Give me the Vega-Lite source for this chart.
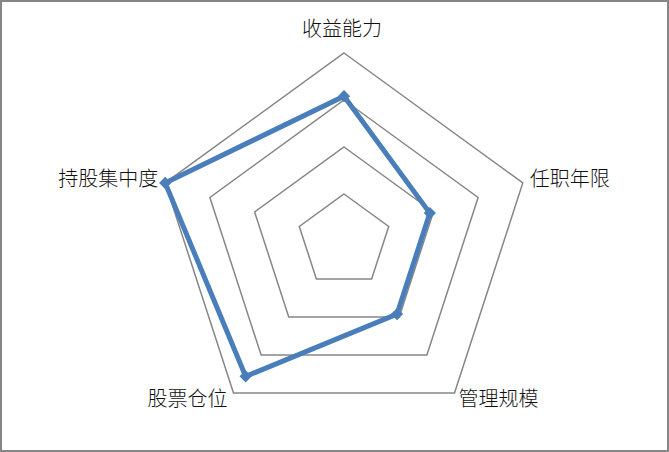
{
  "$schema": "https://vega.github.io/schema/vega-lite/v6.json",
  "width": 669,
  "height": 452,
  "autosize": "none",
  "padding": 0,
  "background": "white",
  "config": {
    "view": {"stroke": "#868686", "strokeWidth": 4},
    "text": {"font": "Noto Sans CJK SC", "fontSize": 20, "fontWeight": 300, "color": "#111111", "baseline": "middle"}
  },
  "datasets": {
    "vals": [
      {"axis": "收益能力", "idx": 0, "value": 77},
      {"axis": "任职年限", "idx": 1, "value": 48},
      {"axis": "管理规模", "idx": 2, "value": 48},
      {"axis": "股票仓位", "idx": 3, "value": 89},
      {"axis": "持股集中度", "idx": 4, "value": 100}
    ],
    "grid": [
      {"level": 25, "idx": [0, 1, 2, 3, 4]},
      {"level": 50, "idx": [0, 1, 2, 3, 4]},
      {"level": 75, "idx": [0, 1, 2, 3, 4]},
      {"level": 100, "idx": [0, 1, 2, 3, 4]}
    ]
  },
  "encoding": {
    "x": {"field": "x", "type": "quantitative", "axis": null,
          "scale": {"domain": [-182.98, 172.87], "nice": false, "zero": false}},
    "y": {"field": "y", "type": "quantitative", "axis": null,
          "scale": {"domain": [-112.23, 128.19], "nice": false, "zero": false}}
  },
  "layer": [
    {
      "data": {"name": "grid"},
      "transform": [
        {"flatten": ["idx"]},
        {"calculate": "datum.idx * 2 * PI / 5", "as": "ang"},
        {"calculate": "datum.level * sin(datum.ang)", "as": "x"},
        {"calculate": "datum.level * cos(datum.ang)", "as": "y"}
      ],
      "mark": {"type": "line", "interpolate": "linear-closed", "color": "#868686", "strokeWidth": 1.5},
      "encoding": {
        "detail": {"field": "level", "type": "nominal"},
        "order": {"field": "idx", "type": "quantitative"}
      }
    },
    {
      "data": {"name": "vals"},
      "transform": [
        {"calculate": "datum.idx * 2 * PI / 5", "as": "ang"},
        {"calculate": "datum.value * sin(datum.ang)", "as": "x"},
        {"calculate": "datum.value * cos(datum.ang)", "as": "y"}
      ],
      "mark": {"type": "line", "interpolate": "linear-closed", "color": "#4A7EBB", "strokeWidth": 5, "strokeJoin": "miter"},
      "encoding": {
        "order": {"field": "idx", "type": "quantitative"}
      }
    },
    {
      "data": {"name": "vals"},
      "transform": [
        {"calculate": "datum.idx * 2 * PI / 5", "as": "ang"},
        {"calculate": "datum.value * sin(datum.ang)", "as": "x"},
        {"calculate": "datum.value * cos(datum.ang)", "as": "y"}
      ],
      "mark": {"type": "point", "shape": "diamond", "filled": true, "size": 150, "color": "#4A7EBB", "opacity": 1}
    },
    {
      "data": {"name": "vals"},
      "transform": [
        {"filter": "datum.idx == 0"},
        {"calculate": "100 * sin(datum.idx * 2 * PI / 5)", "as": "x"},
        {"calculate": "100 * cos(datum.idx * 2 * PI / 5)", "as": "y"}
      ],
      "mark": {"type": "text", "align": "center", "dx": -2, "dy": -23},
      "encoding": {"text": {"field": "axis"}}
    },
    {
      "data": {"name": "vals"},
      "transform": [
        {"filter": "datum.idx == 1"},
        {"calculate": "100 * sin(datum.idx * 2 * PI / 5)", "as": "x"},
        {"calculate": "100 * cos(datum.idx * 2 * PI / 5)", "as": "y"}
      ],
      "mark": {"type": "text", "align": "left", "dx": 7, "dy": -3},
      "encoding": {"text": {"field": "axis"}}
    },
    {
      "data": {"name": "vals"},
      "transform": [
        {"filter": "datum.idx == 2"},
        {"calculate": "100 * sin(datum.idx * 2 * PI / 5)", "as": "x"},
        {"calculate": "100 * cos(datum.idx * 2 * PI / 5)", "as": "y"}
      ],
      "mark": {"type": "text", "align": "left", "dx": 4, "dy": 7},
      "encoding": {"text": {"field": "axis"}}
    },
    {
      "data": {"name": "vals"},
      "transform": [
        {"filter": "datum.idx == 3"},
        {"calculate": "100 * sin(datum.idx * 2 * PI / 5)", "as": "x"},
        {"calculate": "100 * cos(datum.idx * 2 * PI / 5)", "as": "y"}
      ],
      "mark": {"type": "text", "align": "right", "dx": -6, "dy": 7},
      "encoding": {"text": {"field": "axis"}}
    },
    {
      "data": {"name": "vals"},
      "transform": [
        {"filter": "datum.idx == 4"},
        {"calculate": "100 * sin(datum.idx * 2 * PI / 5)", "as": "x"},
        {"calculate": "100 * cos(datum.idx * 2 * PI / 5)", "as": "y"}
      ],
      "mark": {"type": "text", "align": "right", "dx": -7, "dy": -3},
      "encoding": {"text": {"field": "axis"}}
    }
  ]
}
